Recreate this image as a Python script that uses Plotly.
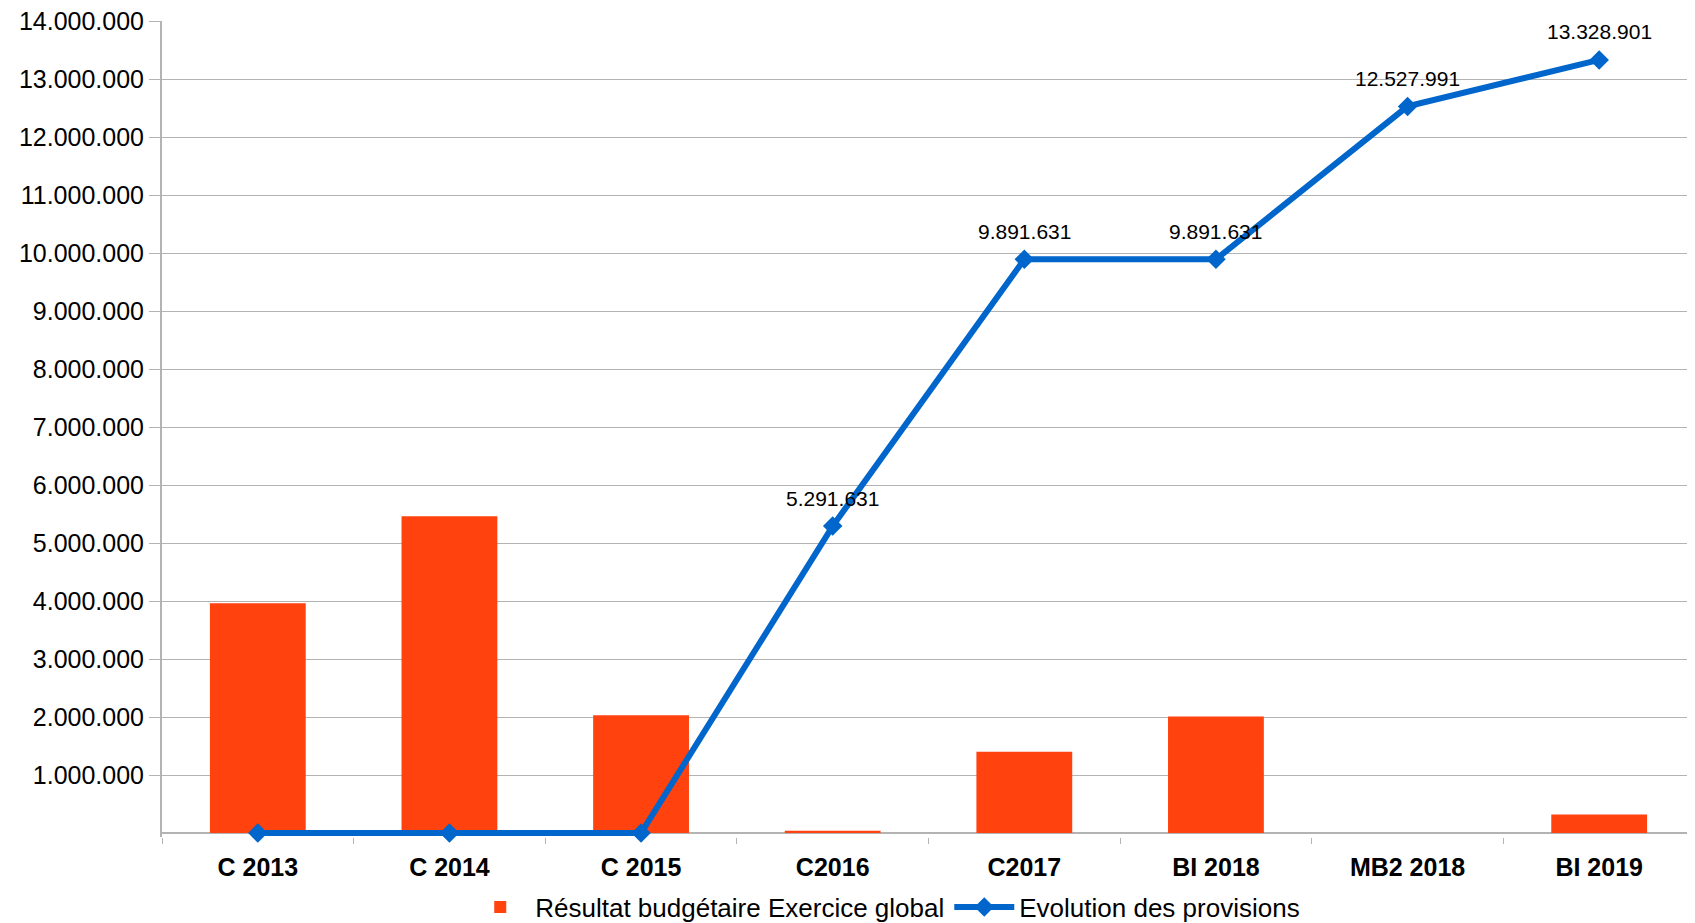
import plotly.graph_objects as go

categories = ["C 2013", "C 2014", "C 2015", "C2016", "C2017", "BI 2018", "MB2 2018", "BI 2019"]
resultat = [3960000, 5460000, 2030000, 40000, 1400000, 2010000, 0, 320000]
provisions = [0, 0, 0, 5291631, 9891631, 9891631, 12527991, 13328901]
provision_labels = ["", "", "", "5.291.631", "9.891.631", "9.891.631", "12.527.991", "13.328.901"]
y_ticks = [1000000 * i for i in range(1, 15)]

fig = go.Figure()

fig.add_trace(go.Bar(
    x=categories,
    y=resultat,
    name="Résultat budgétaire Exercice global",
    marker=dict(color="#FF420E", line=dict(width=0)),
))

fig.add_trace(go.Scatter(
    x=categories,
    y=provisions,
    name="Evolution des provisions",
    mode="lines+markers",
    line=dict(color="#0066CC", width=6),
    marker=dict(symbol="diamond", size=15, color="#0066CC"),
    cliponaxis=False,
))

# data labels above the line points
for cat, val, lab in zip(categories, provisions, provision_labels):
    if lab:
        fig.add_annotation(
            x=cat, y=val, text=lab, showarrow=False, yshift=28,
            font=dict(family="Liberation Sans", size=21, color="#000000"),
        )

# page body has an 8px margin, so the figure is sized/offset to fit the window
fig.update_layout(
    width=1687,
    height=915,
    margin=dict(l=154, r=0, t=13, b=86, autoexpand=False),
    plot_bgcolor="white",
    paper_bgcolor="white",
    separators=",.",
    bargap=0.5,
    font=dict(family="Liberation Sans", color="#000000"),
    showlegend=True,
    legend=dict(
        orientation="h",
        xref="container", yref="container",
        x=0.52, xanchor="center",
        y=0.0175, yanchor="middle",
        font=dict(size=26),
        itemwidth=60,
        tracegroupgap=0,
    ),
)

fig.update_xaxes(
    showline=False,
    showgrid=False,
    ticks="outside",
    tickson="boundaries",
    ticklen=6,
    tickcolor="#b3b3b3",
    tickfont=dict(family="Liberation Sans", size=25, color="#000000", weight="bold"),
    ticklabelstandoff=13,
)

# small negative floor so the thick line at 0 is not clipped
fig.update_yaxes(
    range=[-69000, 14000000],
    tickvals=y_ticks,
    tickformat=",d",
    ticklabeloverflow="allow",
    showgrid=True,
    gridcolor="#b3b3b3",
    gridwidth=1,
    zeroline=True,
    zerolinecolor="#b3b3b3",
    zerolinewidth=2,
    showline=True,
    linecolor="#b3b3b3",
    linewidth=2,
    ticks="outside",
    ticklen=11,
    tickcolor="#b3b3b3",
    tickfont=dict(family="Liberation Sans", size=25, color="#000000"),
)

fig.write_html("out.html")
